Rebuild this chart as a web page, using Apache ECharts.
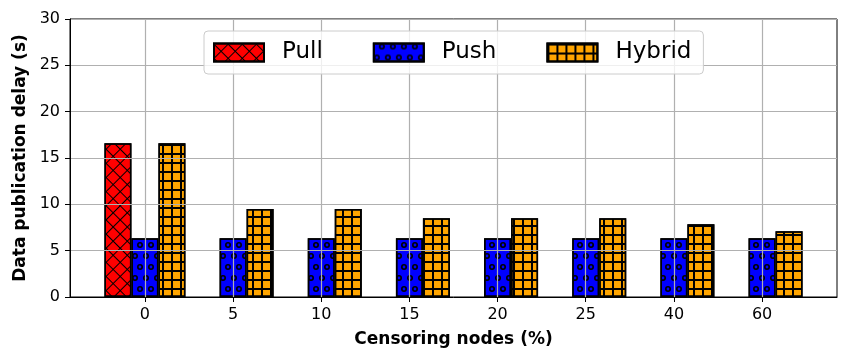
<!DOCTYPE html>
<html>
<head>
<meta charset="utf-8">
<script src="https://cdn.jsdelivr.net/npm/echarts@6/dist/echarts.min.js"></script>
<style>
html,body{margin:0;padding:0;background:#fff;}
#chart{width:855px;height:362px;}
</style>
</head>
<body>
<div id="chart"></div>
<script>
// ---- data ----
var categories = ['0', '5', '10', '15', '20', '25', '40', '60'];
var pullValues = [16.6];          // Pull only measured at 0%
var pushValues = [6.35, 6.35, 6.35, 6.35, 6.35, 6.35, 6.35, 6.35];
var hybridValues = [16.6, 9.5, 9.5, 8.5, 8.5, 8.5, 7.85, 7.1];
var yTicks = [0, 5, 10, 15, 20, 25, 30];

function toPairs(arr) {
  var out = [];
  for (var i = 0; i < arr.length; i++) {
    if (arr[i] != null) out.push([i, arr[i]]);
  }
  return out;
}
var catIdx = categories.map(function (c, i) { return i; });

var ringPath = 'path://M0,-5A5,5,0,1,1,0,5A5,5,0,1,1,0,-5ZM0,-2.3A2.3,2.3,0,1,0,0,2.3A2.3,2.3,0,1,0,0,-2.3Z';

var chart = echarts.init(document.getElementById('chart'));
var option = {
  backgroundColor: '#ffffff',
  animation: false,
  textStyle: { fontFamily: 'DejaVu Sans' },
  grid: {
    left: 70, right: 18, top: 19, bottom: 65,
    show: true, borderColor: '#000', borderWidth: 1, backgroundColor: 'transparent'
  },
  legend: {
    data: ['Pull', 'Push', 'Hybrid'],
    left: 204, top: 31,
    padding: [10, 12, 10, 9],
    itemGap: 50,
    itemWidth: 50, itemHeight: 18,
    icon: 'rect',
    backgroundColor: 'rgba(255,255,255,0.8)',
    borderColor: '#cccccc', borderWidth: 1, borderRadius: 4,
    textStyle: { fontSize: 23, color: '#000', fontFamily: 'DejaVu Sans', padding: [0, 0, 0, 13] }
  },
  xAxis: {
    type: 'value',
    min: -0.85, max: 7.85,
    z: 3,
    name: 'Censoring nodes (%)',
    nameLocation: 'middle',
    nameGap: 34,
    nameTextStyle: { fontSize: 17, fontWeight: 'bold', color: '#000', fontFamily: 'DejaVu Sans' },
    axisLine: { show: true, onZero: false, lineStyle: { color: '#000', width: 1 } },
    axisTick: { show: true, length: 5, lineStyle: { color: '#000' }, customValues: catIdx },
    axisLabel: {
      customValues: catIdx,
      fontSize: 16, color: '#000', margin: 10,
      formatter: function (v) { return categories[Math.round(v)]; }
    },
    splitLine: { show: true, lineStyle: { color: '#b0b0b0', width: 1.2 } }
  },
  yAxis: {
    type: 'value',
    min: 0, max: 30, interval: 5,
    z: 3,
    name: 'Data publication delay (s)',
    nameLocation: 'middle',
    nameGap: 41,
    nameTextStyle: { fontSize: 17, fontWeight: 'bold', color: '#000', fontFamily: 'DejaVu Sans' },
    axisLine: { show: true, onZero: false, lineStyle: { color: '#000', width: 1 } },
    axisTick: { show: true, length: 5, lineStyle: { color: '#000' } },
    axisLabel: {
      fontSize: 16, color: '#000', margin: 10,
      formatter: function (v) { return yTicks.indexOf(v) >= 0 ? String(v) : ''; }
    },
    splitLine: { show: true, lineStyle: { color: '#b0b0b0', width: 1.2 } }
  },
  series: [
    {
      name: 'Pull', type: 'bar',
      data: toPairs(pullValues),
      barWidth: 27, barGap: '0%',
      itemStyle: {
        color: '#ff0000', borderColor: '#000', borderWidth: 1.5,
        decal: {
          symbol: 'rect', symbolSize: 1, color: '#000',
          dashArrayX: [[10, 0], [1, 9]],
          dashArrayY: [1, 0, 9, 0],
          rotation: Math.PI / 4
        }
      }
    },
    {
      name: 'Push', type: 'bar',
      data: toPairs(pushValues),
      barWidth: 27, barGap: '0%',
      itemStyle: {
        color: '#0000ff', borderColor: '#000', borderWidth: 1.5,
        decal: {
          symbol: ringPath, symbolSize: 1, color: '#000', symbolKeepAspect: true,
          dashArrayX: [[6, 5], [0, 5, 6, 0]],
          dashArrayY: [6, 5]
        }
      }
    },
    {
      name: 'Hybrid', type: 'bar',
      data: toPairs(hybridValues),
      barWidth: 27, barGap: '0%',
      itemStyle: {
        color: '#ffa500', borderColor: '#000', borderWidth: 1.5,
        decal: {
          symbol: 'rect', symbolSize: 1, color: '#000',
          dashArrayX: [[9, 0], [2, 7]],
          dashArrayY: [2, 0, 7, 0]
        }
      }
    }
  ]
};
chart.setOption(option);
</script>
</body>
</html>
